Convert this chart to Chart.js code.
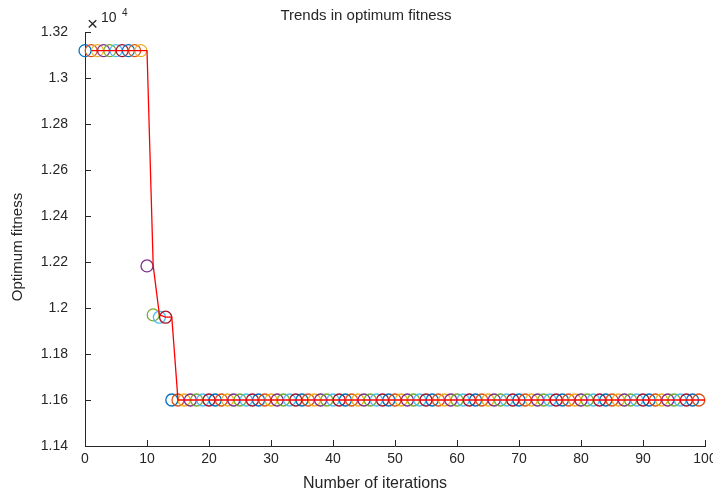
<!DOCTYPE html>
<html>
<head>
<meta charset="utf-8">
<script src="https://cdn.jsdelivr.net/npm/chart.js@4"></script>
<style>
  html, body { margin: 0; padding: 0; background: #fff; }
</style>
</head>
<body>
<canvas id="myChart" width="713" height="495"></canvas>
<script>
// iteration index of every recorded optimum (circles), 0..99
const iterations = Array.from({ length: 100 }, (_, i) => i);

// optimum fitness per iteration (raw values, axis shown as x10^4)
const fitness = [
  13119, 13119, 13119, 13119, 13119, 13119, 13119, 13119, 13119, 13119,
  12183, 11970, 11960, 11960, 11600, 11600, 11600, 11600, 11600, 11600,
  11600, 11600, 11600, 11600, 11600, 11600, 11600, 11600, 11600, 11600,
  11600, 11600, 11600, 11600, 11600, 11600, 11600, 11600, 11600, 11600,
  11600, 11600, 11600, 11600, 11600, 11600, 11600, 11600, 11600, 11600,
  11600, 11600, 11600, 11600, 11600, 11600, 11600, 11600, 11600, 11600,
  11600, 11600, 11600, 11600, 11600, 11600, 11600, 11600, 11600, 11600,
  11600, 11600, 11600, 11600, 11600, 11600, 11600, 11600, 11600, 11600,
  11600, 11600, 11600, 11600, 11600, 11600, 11600, 11600, 11600, 11600,
  11600, 11600, 11600, 11600, 11600, 11600, 11600, 11600, 11600, 11600
];

const xTicks = [0, 10, 20, 30, 40, 50, 60, 70, 80, 90, 100];
const yTicks = [11400, 11600, 11800, 12000, 12200, 12400, 12600, 12800, 13000, 13200];

// matlab default colour order, one per plot call
const matlabColors = [
  'rgb(0,114,189)', 'rgb(217,83,25)', 'rgb(237,177,32)', 'rgb(126,47,142)',
  'rgb(119,172,48)', 'rgb(77,190,238)', 'rgb(162,20,47)'
];
const textColor = '#262626';
const font = 'Liberation Sans, Arial, Helvetica, sans-serif';

const circles = iterations.map((it, i) => ({ x: it, y: fitness[i] }));
// the red trend line is plotted against 1..N
const trend = fitness.map((v, i) => ({ x: i + 1, y: v }));

const extras = {
  id: 'extras',
  afterDraw(chart) {
    const { ctx, chartArea: a, scales: { x, y } } = chart;
    ctx.save();
    // inward tick marks
    ctx.strokeStyle = textColor;
    ctx.lineWidth = 1;
    ctx.beginPath();
    xTicks.forEach(v => {
      const px = Math.round(x.getPixelForValue(v)) + 0.5;
      ctx.moveTo(px, a.bottom);
      ctx.lineTo(px, a.bottom - 6);
    });
    yTicks.forEach(v => {
      const py = Math.round(y.getPixelForValue(v)) + 0.5;
      ctx.moveTo(a.left, py);
      ctx.lineTo(a.left + 6, py);
    });
    ctx.stroke();

    ctx.fillStyle = textColor;
    ctx.textAlign = 'center';
    ctx.textBaseline = 'alphabetic';
    ctx.font = '15px ' + font;
    ctx.fillText('Trends in optimum fitness', 366, 20);
    ctx.font = '16px ' + font;
    ctx.fillText('Number of iterations', 375, 488);

    ctx.save();
    ctx.translate(22, 247);
    ctx.rotate(-Math.PI / 2);
    ctx.font = '15px ' + font;
    ctx.fillText('Optimum fitness', 0, 0);
    ctx.restore();

    // exponent label
    ctx.textAlign = 'left';
    ctx.font = '19px ' + font;
    ctx.fillText('\u00d7', 87, 30);
    ctx.font = '14px ' + font;
    ctx.fillText('10', 101, 22);
    ctx.font = '10px ' + font;
    ctx.fillText('4', 122, 16);
    ctx.restore();
  }
};

const ctx = document.getElementById('myChart').getContext('2d');
const myChart = new Chart(ctx, {
  type: 'scatter',
  data: {
    datasets: [
      {
        type: 'line',
        data: trend,
        borderColor: 'rgb(255,0,0)',
        borderWidth: 1.3,
        pointRadius: 0,
        fill: false,
        tension: 0,
        clip: false,
        order: 0
      },
      {
        data: circles,
        showLine: false,
        pointStyle: 'circle',
        pointRadius: 6,
        pointHoverRadius: 6,
        pointBorderWidth: 1.3,
        pointBackgroundColor: 'rgba(0,0,0,0)',
        pointBorderColor: circles.map((_, i) => matlabColors[i % matlabColors.length]),
        clip: false,
        order: 1
      }
    ]
  },
  options: {
    responsive: false,
    animation: false,
    layout: { padding: { top: 32, right: 8, left: 0, bottom: 0 } },
    plugins: {
      legend: { display: false },
      tooltip: { enabled: false },
      title: { display: false }
    },
    scales: {
      x: {
        type: 'linear',
        min: 0,
        max: 100,
        afterBuildTicks: s => { s.ticks = xTicks.map(v => ({ value: v })); },
        afterFit: s => { s.height = 49; s.paddingLeft = 0; s.paddingRight = 0; },
        grid: { display: false, drawTicks: false },
        border: { display: true, color: textColor, width: 1 },
        ticks: {
          padding: 5,
          color: textColor,
          font: { family: font, size: 14 },
          maxRotation: 0,
          autoSkip: false
        }
      },
      y: {
        type: 'linear',
        min: 11400,
        max: 13200,
        afterBuildTicks: s => { s.ticks = yTicks.map(v => ({ value: v })); },
        afterFit: s => { s.width = 85; s.paddingTop = 0; s.paddingBottom = 0; },
        grid: { display: false, drawTicks: false },
        border: { display: true, color: textColor, width: 1 },
        ticks: {
          padding: 17,
          color: textColor,
          font: { family: font, size: 14 },
          autoSkip: false,
          callback: v => String(parseFloat((v / 10000).toFixed(2)))
        }
      }
    }
  },
  plugins: [extras]
});
</script>
</body>
</html>
